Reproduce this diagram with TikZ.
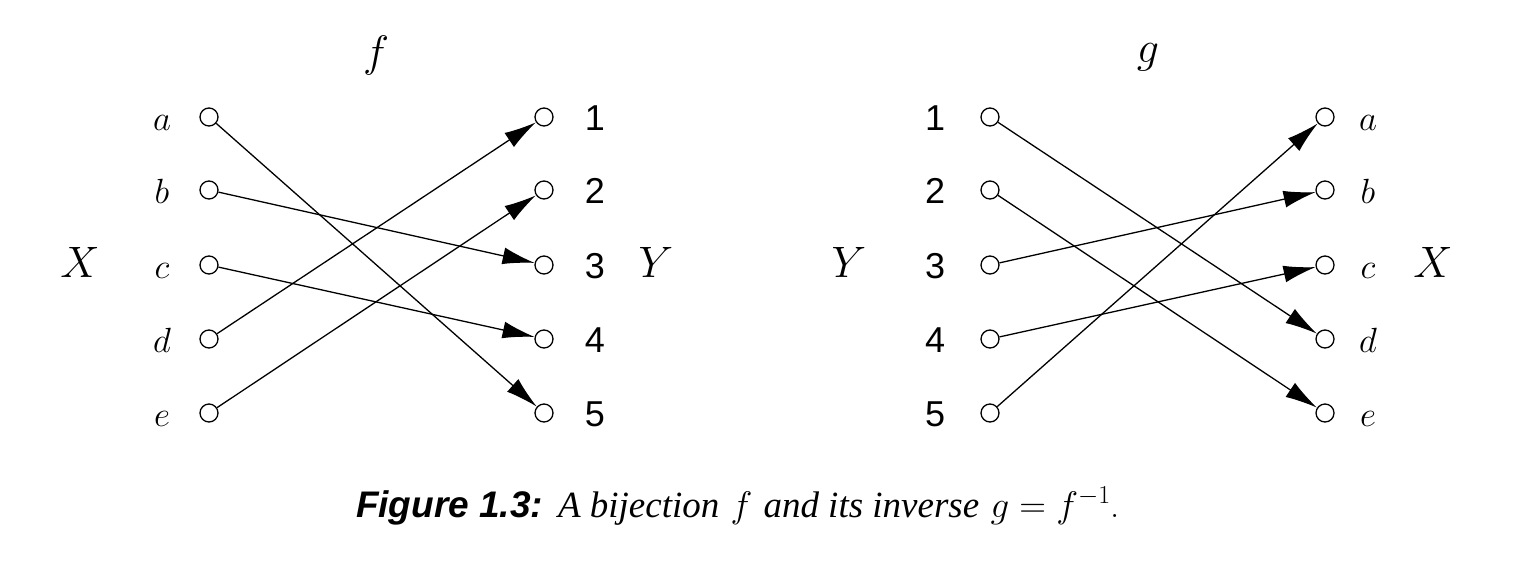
\RequirePackage{fix-cm}
\documentclass[tikz,border=0pt]{standalone}
\usepackage{fontspec}
\newfontfamily\sansnum{Liberation Sans}
\newfontfamily\capserif{Liberation Serif}
\usetikzlibrary{arrows.meta}
\begin{document}
\begin{tikzpicture}[x=1pt,y=-1pt,
  dot/.style={draw,circle,minimum size=18pt,inner sep=0pt,line width=1.3pt},
  lett/.style={anchor=base,inner sep=0pt,font=\fontsize{35}{40}\selectfont},
  num/.style={anchor=base,inner sep=0pt,font=\sansnum\fontsize{36}{40}\selectfont},
  big/.style={anchor=base,inner sep=0pt,font=\fontsize{44}{50}\selectfont},
  arr/.style={line width=1.3pt,-{Latex[length=32pt,width=17pt]}}]
\useasboundingbox (0,0) rectangle (1518,568);
% left diagram f
\foreach \n/\y in {a/117,b/190,c/265,d/339,e/413}{
  \node[dot] (L\n) at (209,\y) {};
  \node[lett] at (162,\y+13) {$\n$};
}
\foreach \n/\y in {1/117,2/190,3/265,4/339,5/413}{
  \node[dot] (R\n) at (544,\y) {};
  \node[num] at (595,\y+13) {\n};
}
\node[big] (X1) at (80,277) {$X$};
\node[big] (Y1) at (656,277) {$Y$};
\node[big] (f) at (376,66) {$f$};
\draw[arr] (La) -- (R5);
\draw[arr] (Lb) -- (R3);
\draw[arr] (Lc) -- (R4);
\draw[arr] (Ld) -- (R1);
\draw[arr] (Le) -- (R2);
% right diagram g
\foreach \n/\y in {1/117,2/190,3/265,4/339,5/413}{
  \node[dot] (P\n) at (990,\y) {};
  \node[num] at (935,\y+13) {\n};
}
\foreach \n/\y in {a/117,b/190,c/265,d/339,e/413}{
  \node[dot] (Q\n) at (1325,\y) {};
  \node[lett] at (1368,\y+13) {$\n$};
}
\node[big] (Y2) at (849,277) {$Y$};
\node[big] (X2) at (1433,277) {$X$};
\node[big] (g) at (1148,62) {$g$};
\draw[arr] (P1) -- (Qd);
\draw[arr] (P2) -- (Qe);
\draw[arr] (P3) -- (Qb);
\draw[arr] (P4) -- (Qc);
\draw[arr] (P5) -- (Qa);
% caption
\node[anchor=base,inner sep=0pt,font=\fontsize{37}{44}\selectfont] (cap) at (738,517)
  {{\sansnum\bfseries\itshape Figure 1.3:} {\capserif\itshape A bijection} $f$ {\capserif\itshape and its inverse} $g=f^{-1}$.};
\end{tikzpicture}
\end{document}
